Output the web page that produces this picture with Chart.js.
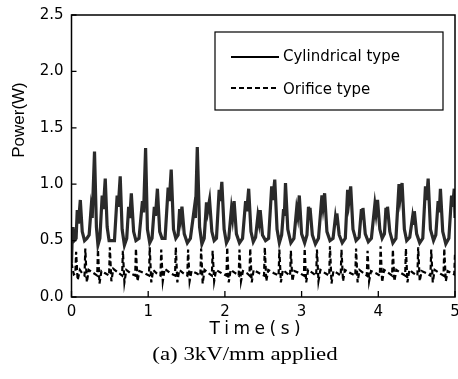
<!DOCTYPE html>
<html><head><meta charset="utf-8">
<script src="https://cdn.jsdelivr.net/npm/chart.js@4.4.0/dist/chart.umd.min.js"></script>
<style>html,body{margin:0;padding:0;background:#fff;}#wrap{width:458px;height:379px;position:relative;}</style>
</head><body><div id="wrap"><canvas id="c" width="458" height="379"></canvas></div>
<script>
// ---- data ----
const seriesNames = ['Cylindrical type', 'Orifice type'];
const xTitle = 'Time(s)';
const yTitle = 'Power(W)';
const caption = '(a) 3kV/mm applied';
const xTicks = [0, 1, 2, 3, 4, 5];
const yTicks = [0.0, 0.5, 1.0, 1.5, 2.0, 2.5];

const cylT = [0.00,0.01,0.02,0.035,0.06,0.075,0.09,0.115,0.14,0.17,0.20,0.23,0.255,0.27,0.30,0.325,0.345,0.37,0.40,0.415,0.44,0.465,0.49,0.52,0.56,0.595,0.61,0.635,0.66,0.69,0.72,0.745,0.76,0.78,0.81,0.84,0.88,0.925,0.94,0.966,0.99,1.02,1.05,1.08,1.095,1.12,1.15,1.18,1.22,1.26,1.275,1.30,1.33,1.36,1.39,1.41,1.425,1.44,1.47,1.51,1.55,1.60,1.615,1.64,1.67,1.70,1.73,1.76,1.775,1.80,1.83,1.86,1.89,1.925,1.94,1.96,1.99,2.02,2.05,2.085,2.10,2.12,2.15,2.19,2.23,2.27,2.285,2.31,2.34,2.37,2.40,2.43,2.445,2.46,2.49,2.53,2.57,2.61,2.625,2.65,2.68,2.71,2.74,2.765,2.775,2.79,2.82,2.86,2.90,2.935,2.95,2.97,3.00,3.04,3.07,3.09,3.10,3.11,3.14,3.18,3.22,3.265,3.28,3.30,3.33,3.37,3.41,3.44,3.45,3.46,3.49,3.53,3.57,3.60,3.615,3.64,3.67,3.71,3.75,3.78,3.79,3.80,3.83,3.87,3.91,3.955,3.97,3.99,4.02,4.05,4.08,4.10,4.11,4.12,4.15,4.19,4.23,4.27,4.285,4.31,4.34,4.37,4.41,4.445,4.455,4.47,4.50,4.54,4.58,4.615,4.63,4.65,4.68,4.72,4.75,4.78,4.795,4.81,4.84,4.88,4.92,4.955,4.97,4.99,5.00];
const cylP = [0.30,0.55,0.62,0.50,0.52,0.77,0.65,0.86,0.58,0.50,0.52,0.55,0.78,0.70,1.29,0.62,0.46,0.52,0.90,0.78,1.05,0.62,0.50,0.50,0.50,0.90,0.80,1.07,0.60,0.46,0.52,0.80,0.70,0.92,0.58,0.50,0.52,0.85,0.75,1.32,0.60,0.48,0.52,0.80,0.72,0.96,0.58,0.52,0.52,0.97,0.85,1.13,0.60,0.52,0.55,0.78,0.70,0.80,0.56,0.48,0.52,0.78,0.70,1.33,0.62,0.47,0.52,0.84,0.76,0.86,0.58,0.50,0.52,0.95,0.85,1.02,0.60,0.48,0.52,0.78,0.70,0.85,0.56,0.48,0.52,0.85,0.76,0.96,0.58,0.49,0.53,0.72,0.66,0.77,0.55,0.50,0.52,0.98,0.86,1.04,0.60,0.48,0.55,0.78,0.72,1.01,0.60,0.48,0.52,0.78,0.72,0.90,0.56,0.48,0.55,0.80,0.72,0.79,0.55,0.47,0.52,0.90,0.80,0.92,0.58,0.50,0.52,0.70,0.65,0.74,0.55,0.48,0.52,0.95,0.84,0.98,0.60,0.50,0.53,0.78,0.70,0.79,0.56,0.49,0.52,0.82,0.74,0.86,0.60,0.52,0.56,0.79,0.70,0.80,0.58,0.48,0.52,1.00,0.88,1.01,0.60,0.50,0.53,0.70,0.64,0.76,0.56,0.48,0.52,0.98,0.86,1.05,0.60,0.50,0.55,0.85,0.75,0.96,0.58,0.47,0.52,0.90,0.80,0.96,0.70];

const oriT = [0.00,0.03,0.05,0.06,0.08,0.11,0.15,0.17,0.18,0.20,0.225,0.27,0.335,0.345,0.365,0.39,0.44,0.49,0.50,0.52,0.545,0.60,0.66,0.67,0.69,0.715,0.77,0.83,0.84,0.86,0.885,0.95,1.01,1.02,1.04,1.065,1.11,1.16,1.17,1.19,1.215,1.29,1.35,1.36,1.38,1.405,1.46,1.51,1.52,1.54,1.565,1.63,1.68,1.69,1.71,1.735,1.79,1.83,1.84,1.86,1.885,1.96,2.02,2.03,2.05,2.075,2.14,2.18,2.19,2.21,2.235,2.29,2.32,2.33,2.35,2.375,2.45,2.51,2.52,2.54,2.565,2.64,2.70,2.71,2.73,2.755,2.81,2.85,2.86,2.88,2.905,2.98,3.03,3.04,3.06,3.085,3.15,3.19,3.20,3.22,3.245,3.31,3.36,3.37,3.39,3.415,3.47,3.51,3.52,3.54,3.565,3.64,3.70,3.71,3.73,3.755,3.81,3.85,3.86,3.88,3.905,3.97,4.02,4.03,4.05,4.075,4.14,4.18,4.19,4.21,4.235,4.30,4.35,4.36,4.38,4.405,4.46,4.51,4.52,4.54,4.565,4.63,4.68,4.69,4.71,4.735,4.80,4.85,4.86,4.88,4.905,4.96,4.99,5.00];
const oriP = [0.30,0.20,0.21,0.40,0.15,0.24,0.20,0.19,0.43,0.13,0.24,0.22,0.19,0.42,0.12,0.23,0.21,0.19,0.44,0.14,0.25,0.22,0.19,0.41,0.13,0.24,0.21,0.19,0.43,0.14,0.23,0.21,0.19,0.44,0.13,0.24,0.21,0.19,0.42,0.14,0.25,0.21,0.19,0.44,0.13,0.24,0.21,0.19,0.42,0.14,0.23,0.21,0.19,0.43,0.12,0.24,0.21,0.19,0.41,0.14,0.24,0.21,0.19,0.44,0.13,0.24,0.21,0.19,0.42,0.14,0.23,0.21,0.19,0.43,0.13,0.24,0.21,0.19,0.44,0.14,0.24,0.21,0.19,0.42,0.13,0.24,0.21,0.19,0.41,0.14,0.23,0.21,0.19,0.43,0.13,0.24,0.21,0.19,0.42,0.14,0.24,0.21,0.19,0.45,0.12,0.23,0.21,0.19,0.42,0.14,0.24,0.21,0.19,0.43,0.13,0.24,0.21,0.19,0.41,0.14,0.23,0.21,0.19,0.45,0.13,0.24,0.21,0.19,0.42,0.14,0.24,0.21,0.19,0.43,0.13,0.24,0.21,0.19,0.44,0.14,0.23,0.21,0.19,0.42,0.13,0.24,0.21,0.19,0.43,0.14,0.23,0.21,0.20,0.38];

// ---- chart ----
const toXY = (t, p) => t.map((v, i) => ({x: v, y: p[i]}));
const SANS = '"DejaVu Sans", sans-serif';

function spacedText(ctx, text, cx, cy, sp) {
  let total = 0;
  const ws = [...text].map(ch => { const w = ctx.measureText(ch).width; total += w; return w; });
  total += sp * (text.length - 1);
  let x = cx - total / 2;
  ctx.textAlign = 'left';
  [...text].forEach((ch, i) => { ctx.fillText(ch, x, cy); x += ws[i] + sp; });
}

const decor = {
  id: 'decor',
  afterDatasetsDraw(chart) {
    const {ctx, chartArea: a, scales: {x, y}} = chart;
    ctx.save();
    ctx.strokeStyle = '#000';
    ctx.lineWidth = 1.5;
    ctx.strokeRect(a.left, a.top, a.right - a.left, a.bottom - a.top);
    ctx.lineWidth = 1.3;
    ctx.beginPath();
    yTicks.forEach(v => { const py = y.getPixelForValue(v); ctx.moveTo(a.left, py); ctx.lineTo(a.left + 5, py); });
    xTicks.forEach(v => { const px = x.getPixelForValue(v); ctx.moveTo(px, a.bottom); ctx.lineTo(px, a.bottom - 6); });
    ctx.stroke();

    // legend
    ctx.fillStyle = '#fff';
    ctx.fillRect(215, 32, 228, 78);
    ctx.lineWidth = 1.2;
    ctx.strokeRect(215, 32, 228, 78);
    const rows = [{y: 57, ty: 61}, {y: 88, ty: 94}];
    chart.data.datasets.forEach((ds, i) => {
      ctx.save();
      ctx.strokeStyle = '#000';
      ctx.lineWidth = 2;
      ctx.setLineDash(ds.borderDash || []);
      ctx.beginPath(); ctx.moveTo(231, rows[i].y); ctx.lineTo(279, rows[i].y); ctx.stroke();
      ctx.restore();
      ctx.fillStyle = '#000';
      ctx.font = '15px ' + SANS;
      ctx.textAlign = 'left';
      ctx.textBaseline = 'alphabetic';
      ctx.fillText(ds.label, 283, rows[i].ty);
    });

    // titles
    ctx.fillStyle = '#000';
    ctx.textBaseline = 'middle';
    ctx.save();
    ctx.translate(19, 120);
    ctx.rotate(-Math.PI / 2);
    ctx.font = '17px "Liberation Sans", Arial, sans-serif';
    ctx.textAlign = 'center';
    ctx.fillText(yTitle, 0, 0);
    ctx.restore();

    ctx.font = '17px ' + SANS;
    spacedText(ctx, xTitle, 255, 330, 4.5);

    ctx.save();
    ctx.translate(245, 355);
    ctx.scale(1.27, 1);
    ctx.font = '18px "Liberation Serif", "Times New Roman", serif';
    ctx.textAlign = 'center';
    ctx.fillText(caption, 0, 0);
    ctx.restore();
    ctx.restore();
  }
};

new Chart(document.getElementById('c'), {
  type: 'line',
  data: {
    datasets: [
      {label: seriesNames[0], data: toXY(cylT, cylP), borderColor: '#2a2a2a', borderWidth: 3.2, pointRadius: 0, tension: 0, fill: false},
      {label: seriesNames[1], data: toXY(oriT, oriP), borderColor: '#000', borderWidth: 2.2, borderDash: [5, 3], pointRadius: 0, tension: 0, fill: false}
    ]
  },
  options: {
    responsive: false,
    animation: false,
    devicePixelRatio: 1,
    layout: {padding: {top: 15, right: 3, left: 0, bottom: 0}},
    plugins: {legend: {display: false}, tooltip: {enabled: false}, title: {display: false}},
    scales: {
      x: {
        type: 'linear', min: 0, max: 5,
        afterBuildTicks: s => { s.ticks = xTicks.map(v => ({value: v})); },
        afterFit: s => { s.height = 82; s.paddingLeft = 0; s.paddingRight = 0; },
        grid: {display: false, drawTicks: false},
        border: {display: false},
        ticks: {color: '#000', font: {family: SANS, size: 15}, padding: 6, maxRotation: 0, callback: v => String(v)}
      },
      y: {
        type: 'linear', min: 0, max: 2.5,
        afterBuildTicks: s => { s.ticks = yTicks.map(v => ({value: v})); },
        afterFit: s => { s.width = 71.5; s.paddingTop = 0; s.paddingBottom = 0; },
        grid: {display: false, drawTicks: false},
        border: {display: false},
        ticks: {color: '#000', font: {family: SANS, size: 15}, padding: 8, callback: v => Number(v).toFixed(1)}
      }
    }
  },
  plugins: [decor]
});
</script>
</body></html>
